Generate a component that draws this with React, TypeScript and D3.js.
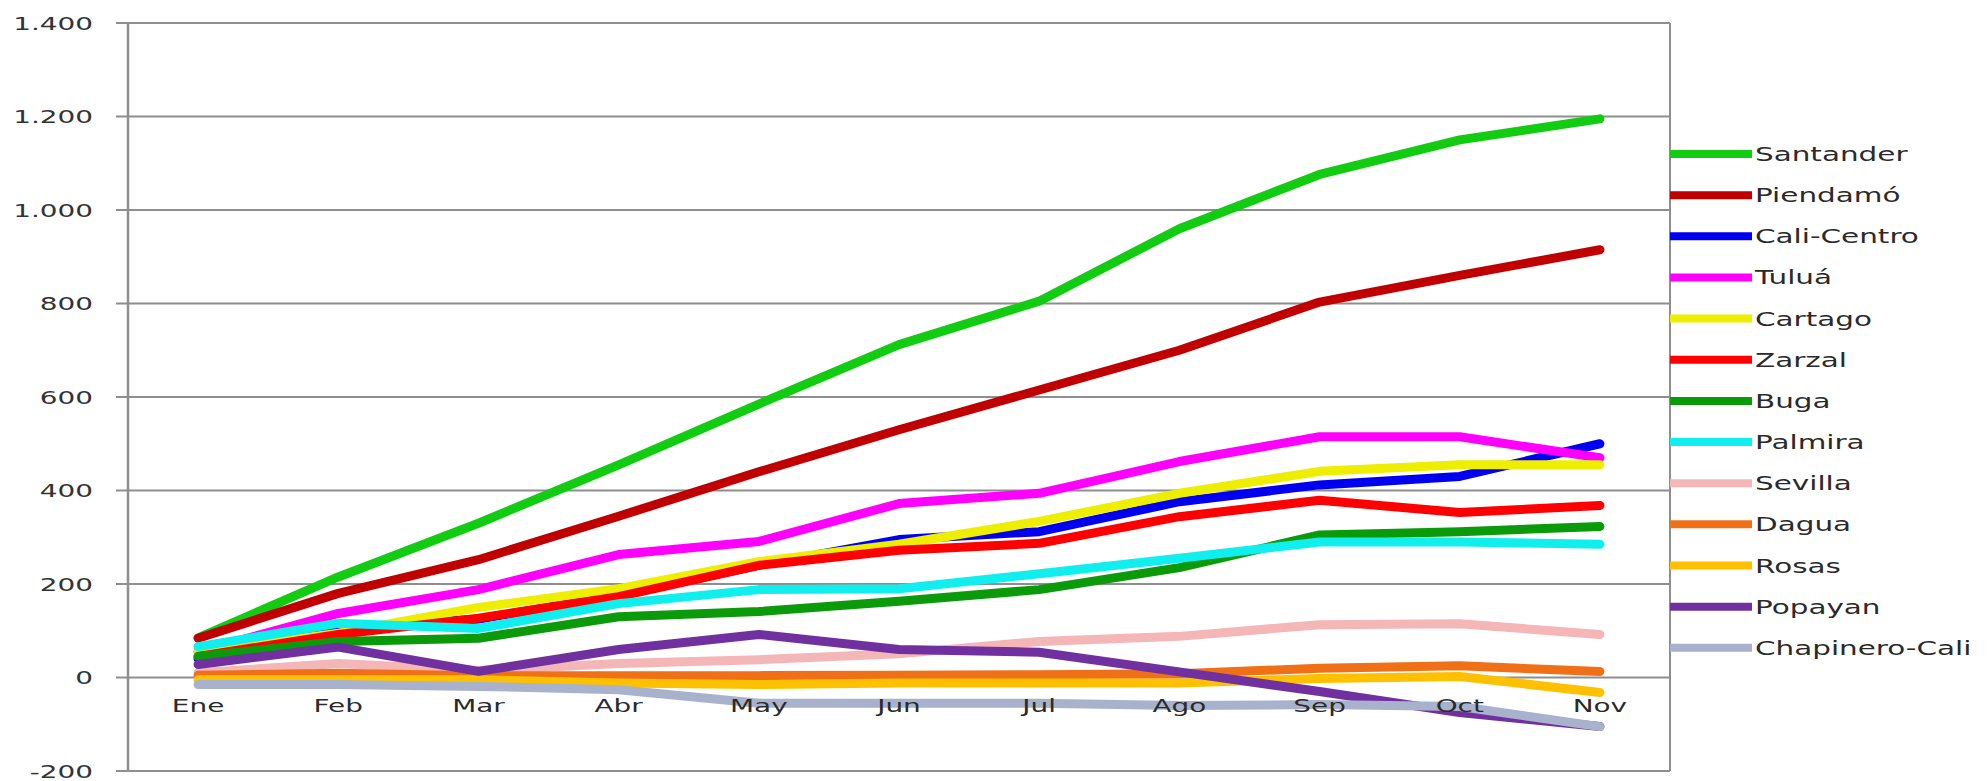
import React from "react";
import * as d3 from "d3";

const months = ["Ene", "Feb", "Mar", "Abr", "May", "Jun", "Jul", "Ago", "Sep", "Oct", "Nov"];
const yTicks = [-200, 0, 200, 400, 600, 800, 1000, 1200, 1400];
const seriesNames = ["Santander", "Piendamó", "Cali-Centro", "Tuluá", "Cartago", "Zarzal", "Buga", "Palmira", "Sevilla", "Dagua", "Rosas", "Popayan", "Chapinero-Cali"];
const seriesColors = ["#11cc11", "#c00000", "#0000f0", "#ff00ff", "#eeee00", "#ff0000", "#0a9a0a", "#11eeee", "#f4b6b6", "#f07018", "#ffc000", "#7030a0", "#a8b2cc"];

const santander = [85, 215, 330, 455, 585, 712, 805, 960, 1076, 1150, 1195];
const piendamo = [84, 180, 252, 345, 440, 530, 615, 700, 803, 860, 915];
const caliCentro = [40, 105, 125, 175, 240, 295, 312, 376, 412, 430, 500];
const tulua = [55, 137, 188, 263, 291, 372, 394, 462, 515, 515, 470];
const cartago = [55, 95, 150, 190, 248, 285, 334, 394, 441, 455, 455];
const zarzal = [45, 92, 127, 173, 240, 272, 287, 344, 379, 353, 368];
const buga = [45, 77, 84, 130, 141, 163, 188, 235, 305, 312, 323];
const palmira = [66, 116, 105, 158, 188, 190, 222, 255, 290, 290, 285];
const sevilla = [10, 30, 15, 30, 38, 51, 77, 88, 113, 115, 92];
const dagua = [5, 9, 4, 4, 4, 5, 6, 8, 20, 25, 13];
const rosas = [-5, -5, -5, -12, -15, -12, -12, -12, -2, 2, -32];
const popayan = [28, 65, 13, 60, 92, 60, 54, 12, -30, -75, -105];
const chapinero = [-15, -15, -19, -26, -55, -55, -55, -60, -58, -62, -105];

const seriesValues = [santander, piendamo, caliCentro, tulua, cartago, zarzal, buga, palmira, sevilla, dagua, rosas, popayan, chapinero];

const W = 1988;
const H = 781;
const left = 128;
const right = 1670;
const top = 23;
const bottom = 771;
const SX = 1.55;
const FONT = "'DejaVu Sans', Verdana, sans-serif";

const fmt = (v: number) => (Math.abs(v) >= 1000 ? d3.format(",")(v).replace(/,/g, ".") : String(v));

export default function App() {
  const x = d3.scalePoint<string>().domain(months).range([left, right]).padding(0.5);
  const y = d3.scaleLinear().domain([-200, 1400]).range([bottom, top]);
  const line = d3
    .line<number>()
    .x((_, i) => x(months[i]) as number)
    .y((d) => y(d));

  const legendX0 = 1670;
  const legendX1 = 1752;
  const legendY0 = 154;
  const legendStep = 41.15;

  return (
    <svg width={W} height={H} style={{ position: "absolute", left: 0, top: 0, background: "#fff" }}>
      <rect x={0} y={0} width={W} height={H} fill="#fff" />
      {yTicks.map((t) => (
        <g key={t}>
          <line x1={left - 12} x2={right} y1={y(t)} y2={y(t)} stroke="#8e8e8e" strokeWidth={2} />
          <text
            transform={`translate(93,${y(t) + 6.5}) scale(${SX},1)`}
            textAnchor="end"
            fontFamily={FONT}
            fontSize={18}
            fill="#333"
          >
            {fmt(t)}
          </text>
        </g>
      ))}
      <line x1={left} x2={left} y1={top} y2={bottom} stroke="#8e8e8e" strokeWidth={2.5} />
      <line x1={right} x2={right} y1={top} y2={bottom} stroke="#8e8e8e" strokeWidth={2} />
      {seriesValues.map((vals, i) => (
        <path
          key={seriesNames[i]}
          d={line(vals) || ""}
          fill="none"
          stroke={seriesColors[i]}
          strokeWidth={9}
          strokeLinejoin="round"
          strokeLinecap="round"
        />
      ))}
      {months.map((m) => (
        <text
          key={m}
          transform={`translate(${x(m)},712) scale(${SX},1)`}
          textAnchor="middle"
          fontFamily={FONT}
          fontSize={18}
          fill="#2a2a2a"
        >
          {m}
        </text>
      ))}
      {seriesNames.map((n, i) => {
        const ly = legendY0 + i * legendStep;
        return (
          <g key={n}>
            <line x1={legendX0} x2={legendX1} y1={ly} y2={ly} stroke={seriesColors[i]} strokeWidth={8} />
            <text
              transform={`translate(1755,${ly + 7}) scale(${SX},1)`}
              fontFamily={FONT}
              fontSize={19}
              fill="#2a2a2a"
            >
              {n}
            </text>
          </g>
        );
      })}
    </svg>
  );
}
